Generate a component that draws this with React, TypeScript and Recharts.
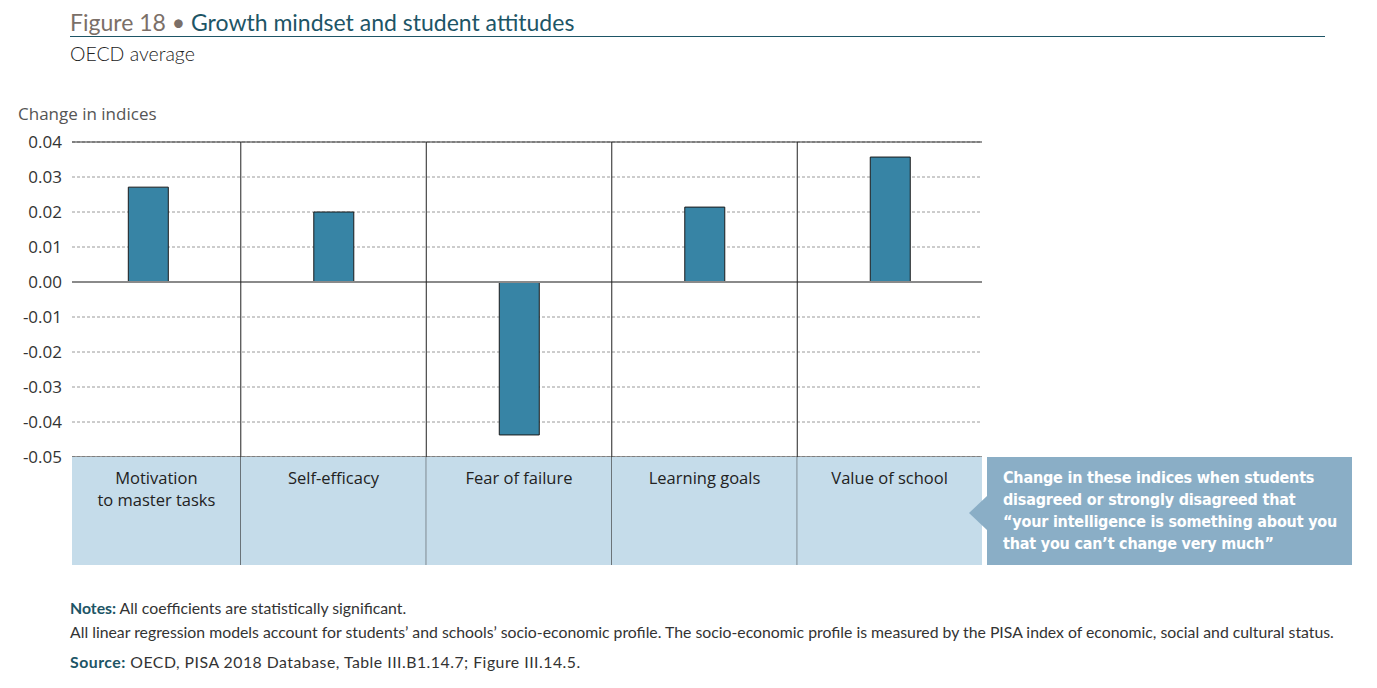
import { BarChart, Bar, XAxis, YAxis, CartesianGrid, ReferenceLine } from "recharts";

const categories = [
  ["Motivation", "to master tasks"],
  ["Self-efficacy"],
  ["Fear of failure"],
  ["Learning goals"],
  ["Value of school"],
];
const changeValues = [0.0271, 0.02, -0.0437, 0.0214, 0.0357];
const yTicks = [-0.05, -0.04, -0.03, -0.02, -0.01, 0, 0.01, 0.02, 0.03, 0.04];

const data = categories.map((c, i) => ({ idx: i, name: c.join(" "), value: changeValues[i] }));

const PLOT_LEFT = 72;
const PLOT_RIGHT = 982;
const PLOT_TOP = 142;
const PLOT_BOTTOM = 457;
const LABEL_H = 108;
const X_MIN = -0.41;
const X_MAX = 4.496;
const HALF = ((PLOT_RIGHT - PLOT_LEFT) / (X_MAX - X_MIN)) / 2;
const CHART_W = 1000;
const CHART_H = PLOT_BOTTOM + LABEL_H + 5;

const CategoryTick = (props: any) => {
  const { x, y, payload } = props;
  const i = payload.value as number;
  const left = Math.max(x - HALF, PLOT_LEFT);
  const right = Math.min(x + HALF, PLOT_RIGHT);
  const cx = (left + right) / 2;
  const lines = categories[i] || [];
  return (
    <g>
      <rect x={left} y={y} width={right - left} height={LABEL_H} fill="#c5dcea" />
      {i < categories.length - 1 && (
        <line x1={x + HALF} x2={x + HALF} y1={y - (PLOT_BOTTOM - PLOT_TOP)} y2={y + LABEL_H} stroke="#222" strokeWidth={1} />
      )}
      <text x={cx} y={y + 27} textAnchor="middle" fill="#222" fontSize={16.5} fontFamily="'Open Sans', sans-serif">
        {lines.map((l, k) => (
          <tspan key={k} x={cx} dy={k ? 22 : 0}>{l}</tspan>
        ))}
      </text>
    </g>
  );
};

function App() {
  return (
    <div style={{ position: "absolute", left: 0, top: 0, width: 1377, height: 688, background: "#fff", fontFamily: "'Open Sans', sans-serif" }}>
      <div style={{ position: "absolute", left: 70, top: 8, fontFamily: "Lato, sans-serif", fontSize: 23, whiteSpace: "nowrap" }}>
        <span style={{ color: "#7b6f68" }}>Figure 18 • </span>
        <span style={{ color: "#1d5566" }}>Growth mindset and student attitudes</span>
      </div>
      <div style={{ position: "absolute", left: 70, top: 36, width: 1255, height: 1, background: "#1d5566" }} />
      <div style={{ position: "absolute", left: 70, top: 42, fontFamily: "Lato, sans-serif", fontWeight: 300, fontSize: 19.5, color: "#222" }}>OECD average</div>
      <div style={{ position: "absolute", left: 18, top: 102, fontSize: 17, color: "#555" }}>Change in indices</div>

      <div style={{ position: "absolute", left: 0, top: 0 }}>
        <BarChart
          width={CHART_W}
          height={CHART_H}
          data={data}
          margin={{ top: PLOT_TOP, right: CHART_W - PLOT_RIGHT, left: 18, bottom: 5 }}
        >
          <CartesianGrid vertical={false} stroke="#9a9a9a" strokeDasharray="3 2" />
          <XAxis
            dataKey="idx"
            type="number"
            domain={[X_MIN, X_MAX]}
            ticks={[0, 1, 2, 3, 4]}
            axisLine={false}
            tickLine={false}
            tickSize={0}
            tickMargin={0}
            height={LABEL_H}
            tick={<CategoryTick />}
            interval={0}
            allowDataOverflow
          />
          <YAxis
            width={PLOT_LEFT - 18}
            domain={[-0.05, 0.04]}
            ticks={yTicks}
            allowDataOverflow
            axisLine={false}
            tickLine={false}
            tickMargin={4}
            tickFormatter={(v: number) => v.toFixed(2)}
            tick={{ fill: "#333", fontSize: 17, fontFamily: "'Open Sans', sans-serif" }}
            interval={0}
          />
          <ReferenceLine y={0.04} stroke="#333" strokeWidth={1.2} />
          <ReferenceLine y={-0.05} stroke="#333" strokeWidth={1.2} />
          <Bar dataKey="value" fill="#3784a5" stroke="#1a1a1a" strokeWidth={1} barSize={40} isAnimationActive={false} />
          <ReferenceLine y={0} stroke="#8a8a8a" strokeWidth={2} />
        </BarChart>
      </div>

      <svg style={{ position: "absolute", left: 960, top: 457 }} width={30} height={108}>
        <polygon points="9,56 27,39 27,73" fill="#8aaec6" />
      </svg>
      <div
        style={{
          position: "absolute",
          left: 987,
          top: 457,
          width: 365,
          height: 108,
          background: "#8aaec6",
          color: "#fff",
          fontFamily: "'DejaVu Sans Condensed', 'DejaVu Sans', sans-serif",
          fontWeight: 700,
          fontSize: 16,
          lineHeight: "22px",
          boxSizing: "border-box",
          paddingLeft: 16,
          paddingTop: 10,
          letterSpacing: -0.2,
        }}
      >
        Change in these indices when students
        <br />
        disagreed or strongly disagreed that
        <br />
        “your intelligence is something about you
        <br />
        that you can’t change very much”
      </div>

      <div style={{ position: "absolute", left: 70, top: 596, fontFamily: "Lato, sans-serif", fontSize: 15.8, color: "#333", lineHeight: "24px", whiteSpace: "nowrap" }}>
        <div>
          <span style={{ color: "#1d5566", fontWeight: 700 }}>Notes:</span> All coefficients are statistically significant.
        </div>
        <div>
          All linear regression models account for students’ and schools’ socio-economic profile. The socio-economic profile is measured by the PISA index of economic, social and cultural status.
        </div>
        <div style={{ marginTop: 6, letterSpacing: 0.5 }}>
          <span style={{ color: "#1d5566", fontWeight: 700 }}>Source:</span> OECD, PISA 2018 Database, Table III.B1.14.7; Figure III.14.5.
        </div>
      </div>
    </div>
  );
}

export default App;
